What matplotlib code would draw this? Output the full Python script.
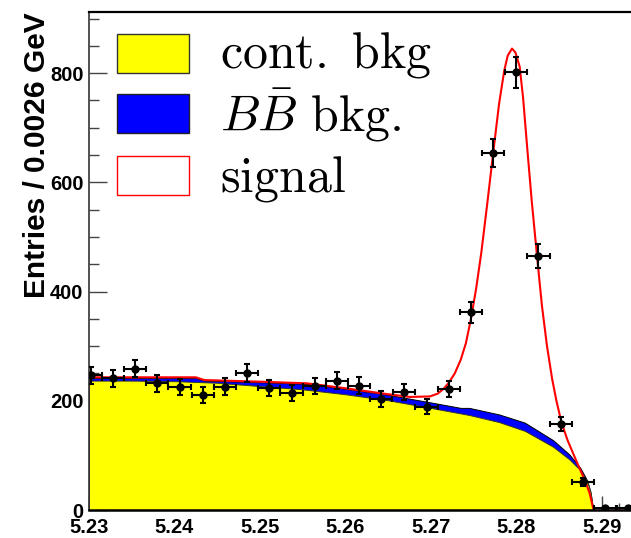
import numpy as np
import matplotlib
matplotlib.use("Agg")
import matplotlib.pyplot as plt
from matplotlib.patches import Rectangle
from matplotlib.ticker import MultipleLocator, FixedLocator

plt.rcParams["mathtext.fontset"] = "cm"

# Measured M_bc histogram (bin centres, counts)
bin_centers = [5.2302, 5.2328, 5.2354, 5.2380, 5.2406, 5.2433, 5.2459, 5.2485,
               5.2511, 5.2537, 5.2564, 5.2590, 5.2616, 5.2642, 5.2669, 5.2695,
               5.2721, 5.2747, 5.2773, 5.2800, 5.2826, 5.2852, 5.2878, 5.2904,
               5.2931]
counts = [247, 241, 259, 232, 225, 211, 226, 251,
          223, 214, 227, 237, 228, 203, 216, 189,
          221, 362, 654, 802, 465, 157, 52, 4,
          3]
bin_half_width = 0.0013

# Continuum background component
cont_x = [5.2300, 5.2350, 5.2400, 5.2450, 5.2500, 5.2550, 5.2600, 5.2650,
          5.2700, 5.2745, 5.2780, 5.2810, 5.2843, 5.2862, 5.2875, 5.2883,
          5.2887, 5.2890]
cont_y = [237, 237, 236, 233, 227, 221, 212, 201,
          187, 174, 161, 145, 116, 93, 73, 52,
          32, 0]

# Continuum + BBbar background (stacked)
bkg_x = [5.2300, 5.2425, 5.2435, 5.2500, 5.2555, 5.2600, 5.2650, 5.2700,
         5.2735, 5.2745, 5.2780, 5.2810, 5.2843, 5.2862, 5.2875, 5.2883,
         5.2887, 5.2890]
bkg_y = [242, 242, 237, 234, 231, 222, 211, 197,
         187, 187, 175, 160, 128, 102, 77, 54,
         32, 0]

# Total fit (signal + backgrounds)
total_x = [5.2300, 5.2425, 5.2435, 5.2500, 5.2555, 5.2600, 5.2650, 5.2676,
           5.2699, 5.2708, 5.2715, 5.2721, 5.2728, 5.2735, 5.2741, 5.2747,
           5.2753, 5.2759, 5.2766, 5.2773, 5.2780, 5.2786, 5.2790, 5.2795,
           5.2799, 5.2804, 5.2808, 5.2813, 5.2818, 5.2824, 5.2830, 5.2836,
           5.2842, 5.2847, 5.2853, 5.2860, 5.2867, 5.2875, 5.2881, 5.2886,
           5.2890, 5.2892, 5.2950]
total_y = [243, 243, 238, 235, 232, 223, 212, 207,
           208, 213, 222, 233, 250, 275, 305, 350,
           405, 470, 560, 654, 745, 805, 832, 845,
           838, 812, 755, 660, 568, 470, 375, 300,
           240, 200, 160, 128, 102, 73, 52, 30,
           3, 3, 3]

W, H = 631, 538
fig = plt.figure(figsize=(W / 100, H / 100), dpi=100)
ax = fig.add_axes([89 / W, 28 / H, 551 / W, 498 / H])
ax.set_axisbelow(True)

ax.fill_between(bkg_x, 0, bkg_y, facecolor="#0000ff", edgecolor="black",
                linewidth=0.7, zorder=1)
ax.fill_between(cont_x, 0, cont_y, facecolor="#ffff00", edgecolor="#333333",
                linewidth=0.7, zorder=1.2)
ax.plot(total_x, total_y, color="red", lw=1.5, zorder=2)

yerr = np.sqrt(np.array(counts, dtype=float))
ax.errorbar(bin_centers, counts, xerr=bin_half_width, yerr=yerr, fmt="o",
            color="black", ms=5, elinewidth=1.5, capsize=2.4, capthick=1.5,
            zorder=3)

ax.set_xlim(5.23, 5.23 + 551 / 8545)
ax.set_ylim(0, 912)

ax.xaxis.set_major_locator(FixedLocator([5.23, 5.24, 5.25, 5.26, 5.27, 5.28, 5.29]))
ax.xaxis.set_minor_locator(MultipleLocator(0.002))
ax.yaxis.set_major_locator(MultipleLocator(200))
ax.yaxis.set_minor_locator(MultipleLocator(50))
ax.set_xticklabels(["5.23", "5.24", "5.25", "5.26", "5.27", "5.28", "5.29"])

ax.tick_params(axis="both", which="both", direction="in", colors="#444444",
               width=1.0, labelcolor="black")
ax.tick_params(axis="x", which="major", length=10, pad=6)
ax.tick_params(axis="x", which="minor", length=5)
ax.tick_params(axis="y", which="major", length=13, pad=4)
ax.tick_params(axis="y", which="minor", length=7)
for lab in ax.get_xticklabels() + ax.get_yticklabels():
    lab.set_fontfamily("Liberation Sans")
    lab.set_fontweight("bold")
    lab.set_fontsize(14.5)

ax.spines["top"].set_linewidth(1.6)
ax.spines["bottom"].set_linewidth(1.8)
ax.spines["left"].set_linewidth(1.2)
ax.spines["left"].set_color("#333333")
ax.spines["right"].set_visible(False)

fig.text(37 / W, 1 - 12 / H, "Entries / 0.0026 GeV", rotation=90,
         ha="center", va="top", fontsize=21.5, fontweight="bold",
         family="Liberation Sans")

# Legend
legend_entries = [
    ("#ffff00", "#333333", 34, r"$\mathrm{cont.\ bkg}$", 68),
    ("#0000ff", "#222222", 94, r"$B\bar{B}\ \mathrm{bkg.}$", 131),
    ("white", "red", 156, r"$\mathrm{signal}$", 191),
]
for face, edge, top, label, base in legend_entries:
    fig.patches.append(Rectangle((117 / W, 1 - (top + 39) / H), 72 / W, 39 / H,
                                 transform=fig.transFigure, facecolor=face,
                                 edgecolor=edge, linewidth=1.0))
    fig.text(220 / W, 1 - base / H, label, fontsize=36, va="baseline",
             ha="left")

fig.savefig("out.png", dpi=100)
